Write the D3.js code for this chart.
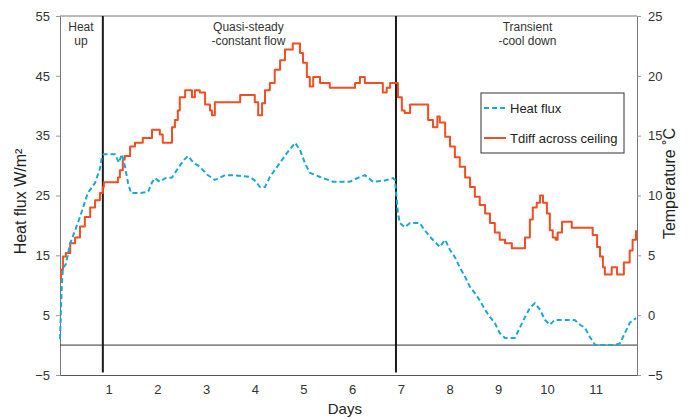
<!DOCTYPE html>
<html>
<head>
<meta charset="utf-8">
<script src="https://cdn.jsdelivr.net/npm/d3@7"></script>
<style>
  body { margin: 0; background: #fff; }
  svg { font-family: Arial, "Liberation Sans", sans-serif; }
</style>
</head>
<body>
<div id="chart"></div>
<script>
// days vs heat flux (W/m2, left axis)
var fluxDays = [0, 0.02, 0.04, 0.06, 0.12, 0.21, 0.41, 0.57, 0.72, 0.82, 0.86, 0.90, 1.13, 1.21, 1.27, 1.33, 1.40, 1.46,
  1.64, 1.81, 1.89, 1.95, 2.05, 2.16, 2.30, 2.42, 2.55, 2.63, 2.73, 2.87, 3.02, 3.18, 3.39, 3.55, 3.90, 4.00, 4.11,
  4.21, 4.31, 4.46, 4.66, 4.83, 4.93, 5.03, 5.13, 5.34, 5.61, 5.95, 6.16, 6.26, 6.43, 6.67, 6.84, 6.88, 6.94, 6.98,
  7.08, 7.19, 7.39, 7.49, 7.60, 7.80, 7.91, 8.01, 8.11, 8.21, 8.32, 8.42, 8.52, 8.62, 8.73, 8.83, 8.93, 9.03, 9.14,
  9.34, 9.45, 9.55, 9.65, 9.75, 9.86, 9.96, 10.06, 10.16, 10.57, 10.68, 10.78, 10.88, 10.99, 11.40, 11.50, 11.60,
  11.70, 11.83];
var fluxVals = [1, 6, 10.4, 12.9, 13.5, 17, 21.4, 25.4, 27.1, 29.5, 31.4, 31.9, 31.9, 30.5, 31.9, 30, 27, 25.4,
  25.4, 25.6, 27.2, 27.9, 27.3, 27.9, 28, 29.5, 31, 31.6, 30.6, 29.8, 28.5, 27.6, 28.4, 28.4, 28.1, 27.5, 26.4,
  26.4, 28.1, 29.8, 32.1, 33.8, 32.6, 30.4, 28.8, 28.1, 27.3, 27.3, 28.1, 28.4, 27.3, 27.5, 27.9, 27.6, 22.1, 20.4,
  19.7, 20.4, 20.4, 19.2, 18.1, 16.4, 17.6, 15.9, 14.7, 13, 11.4, 9.7, 8.7, 7.5, 5.9, 4.7, 3.7, 2, 1.2,
  1.2, 3, 4.7, 6.2, 7, 5.9, 4.2, 3.4, 4.2, 4.2, 3.4, 2.9, 1.4, 0, 0, 0.3, 2,
  3.7, 4.5];

// days vs temperature difference (deg C, right axis)
var tempDays = [0, 0.02, 0.06, 0.12, 0.21, 0.31, 0.41, 0.51, 0.62, 0.72, 0.82, 0.88, 0.90, 1.13, 1.19, 1.23, 1.29,
  1.33, 1.44, 1.54, 1.64, 1.70, 1.85, 1.89, 2.01, 2.05, 2.11, 2.22, 2.30, 2.36, 2.42, 2.46, 2.57, 2.67, 2.71, 2.77,
  2.87, 2.98, 3.08, 3.12, 3.18, 3.59, 3.70, 3.94, 4.00, 4.07, 4.15, 4.21, 4.31, 4.41, 4.52, 4.62, 4.72, 4.78, 4.89,
  4.93, 4.99, 5.07, 5.13, 5.20, 5.30, 5.34, 5.50, 5.54, 5.95, 6.06, 6.16, 6.26, 6.57, 6.63, 6.71, 6.78, 6.88, 6.94,
  7.02, 7.08, 7.19, 7.49, 7.56, 7.66, 7.75, 7.80, 7.91, 8.01, 8.11, 8.21, 8.32, 8.42, 8.52, 8.62, 8.73, 8.83, 8.93,
  9.03, 9.14, 9.24, 9.28, 9.45, 9.55, 9.65, 9.71, 9.79, 9.86, 9.92, 10.00, 10.06, 10.12, 10.18, 10.22, 10.31, 10.47,
  10.51, 10.88, 10.94, 11.03, 11.09, 11.15, 11.19, 11.29, 11.33, 11.40, 11.44, 11.54, 11.58, 11.64, 11.70, 11.76,
  11.83];
var tempVals = [2.9, 3.8, 4.9, 5.2, 6, 6.5, 7.4, 8.2, 9, 9.6, 10.2, 10.7, 11.1, 11.1, 11.5, 12.1, 13,
  13.3, 14.1, 14.4, 14.4, 14.8, 14.8, 15.5, 15.5, 15.1, 14.4, 14.4, 15.7, 16.3, 17.1, 18.2, 18.8, 18.8, 18.2, 18.8,
  18.6, 17.6, 17.1, 16.7, 17.8, 17.8, 18.4, 18.4, 17.8, 16.7, 17.7, 18.8, 19.4, 20.5, 21.3, 22.2, 22.2, 22.7, 22.7,
  21.9, 21.1, 19.9, 19.1, 19.9, 19.9, 19.4, 19.4, 19, 19, 19.4, 19.9, 19.4, 19.4, 18.6, 19, 19.4, 19.4, 18.2,
  17.1, 16.9, 17.6, 17.6, 16.3, 15.7, 16.6, 16.1, 14.9, 14.1, 13.2, 12.4, 11.5, 10.7, 9.9, 9.2, 8.5, 7.7, 6.9,
  6.3, 6, 6, 5.6, 5.6, 6.5, 8, 9, 9.4, 10, 9.4, 8.5, 7.1, 6.5, 6.3, 6.9, 7.8, 7.8,
  7.3, 7.3, 6.7, 5.7, 4.9, 4, 3.4, 3.4, 4, 4, 3.4, 3.4, 4.4, 4.4, 5.4, 6.3,
  7.1];

var dayTicks = [1, 2, 3, 4, 5, 6, 7, 8, 9, 10, 11];
var fluxTicks = [-5, 5, 15, 25, 35, 45, 55];
var tempTicks = [-5, 0, 5, 10, 15, 20, 25];
var phaseDays = [0.88, 6.90];
var phaseLabels = [
  {day: 0.43, lines: ["Heat", "up"]},
  {day: 3.87, lines: ["Quasi-steady", "-constant flow"]},
  {day: 9.6, lines: ["Transient", "-cool down"]}
];
var seriesNames = ["Heat flux", "Tdiff across ceiling"];

var blue = "#1aa8d2", red = "#f04e23";

var W = 689, H = 420;
var margin = {top: 16, right: 52, bottom: 45, left: 60};
var iw = W - margin.left - margin.right, ih = H - margin.top - margin.bottom;

var svg = d3.select("#chart").append("svg").attr("width", W).attr("height", H);
var g = svg.append("g").attr("transform", "translate(" + margin.left + "," + margin.top + ")");

var x = d3.scaleLinear().domain([0, 11.85]).range([0, iw]);
var yL = d3.scaleLinear().domain([-5, 55]).range([ih, 0]);
var yR = d3.scaleLinear().domain([-5, 25]).range([ih, 0]);

// frame top
g.append("line").attr("x1", 0).attr("x2", iw).attr("y1", 0).attr("y2", 0)
  .attr("stroke", "#777").attr("stroke-width", 1);

// left axis
var la = g.append("g").call(d3.axisLeft(yL).tickValues(fluxTicks).tickSize(4).tickPadding(6).tickFormat(d3.format("d")));
// right axis
var ra = g.append("g").attr("transform", "translate(" + iw + ",0)")
  .call(d3.axisRight(yR).tickValues(tempTicks).tickSize(4).tickPadding(7).tickFormat(d3.format("d")));
// bottom axis
var ba = g.append("g").attr("transform", "translate(0," + ih + ")")
  .call(d3.axisBottom(x).tickValues(dayTicks).tickSize(0).tickPadding(10).tickFormat(d3.format("d")));

[la, ra, ba].forEach(function(a){
  a.select(".domain").attr("stroke", "#777");
  a.selectAll(".tick line").attr("stroke", "#999");
  a.selectAll("text").attr("fill", "#333").style("font-size", "13px");
});
ba.select(".domain").attr("stroke", "#555");

// zero line for heat flux
g.append("line").attr("x1", 0).attr("x2", iw).attr("y1", yL(0)).attr("y2", yL(0))
  .attr("stroke", "#333").attr("stroke-width", 1);

// phase dividers
g.selectAll(".phase").data(phaseDays).enter().append("line")
  .attr("class", "phase")
  .attr("x1", function(d){ return x(d); }).attr("x2", function(d){ return x(d); })
  .attr("y1", yL(55)).attr("y2", yL(-4.6))
  .attr("stroke", "#1a1a1a").attr("stroke-width", 2);

// phase labels
phaseLabels.forEach(function(p){
  var t = g.append("text").attr("text-anchor", "middle").attr("fill", "#333").style("font-size", "12px");
  p.lines.forEach(function(s, i){
    t.append("tspan").attr("x", x(p.day)).attr("y", 15 + i * 14).text(s);
  });
});

var fluxData = fluxDays.map(function(d, i){ return [d, fluxVals[i]]; });
var tempData = tempDays.map(function(d, i){ return [d, tempVals[i]]; });

// temperature is logged in steps
g.append("path").datum(tempData)
  .attr("fill", "none").attr("stroke", red).attr("stroke-width", 2).attr("stroke-linejoin", "round")
  .attr("d", d3.line().curve(d3.curveStepAfter).x(function(d){ return x(d[0]); }).y(function(d){ return yR(d[1]); }));

g.append("path").datum(fluxData)
  .attr("fill", "none").attr("stroke", blue).attr("stroke-width", 2).attr("stroke-dasharray", "5,3")
  .attr("d", d3.line().x(function(d){ return x(d[0]); }).y(function(d){ return yL(d[1]); }));

// legend
var lg = svg.append("g").attr("transform", "translate(481,93)");
lg.append("rect").attr("width", 143).attr("height", 60).attr("fill", "#fff").attr("stroke", "#333").attr("stroke-width", 1);
var styles = [{c: blue, dash: "5,3"}, {c: red, dash: null}];
seriesNames.forEach(function(n, i){
  var yy = 15 + i * 30;
  lg.append("line").attr("x1", 3).attr("x2", 25).attr("y1", yy).attr("y2", yy)
    .attr("stroke", styles[i].c).attr("stroke-width", 2).attr("stroke-dasharray", styles[i].dash);
  lg.append("text").attr("x", 29).attr("y", yy + 5).attr("fill", "#222").style("font-size", "13px").text(n);
});

// axis titles
svg.append("text").attr("transform", "translate(26," + (margin.top + yL(24)) + ") rotate(-90)")
  .attr("text-anchor", "middle").attr("fill", "#222").style("font-size", "16px").text("Heat flux W/m²");
svg.append("text").attr("transform", "translate(675," + (margin.top + yR(11)) + ") rotate(-90)")
  .attr("text-anchor", "middle").attr("fill", "#222").style("font-size", "16px").text("Temperature ˚C");
svg.append("text").attr("x", margin.left + x(5.85)).attr("y", 414)
  .attr("text-anchor", "middle").attr("fill", "#222").style("font-size", "15px").text("Days");
</script>
</body>
</html>
